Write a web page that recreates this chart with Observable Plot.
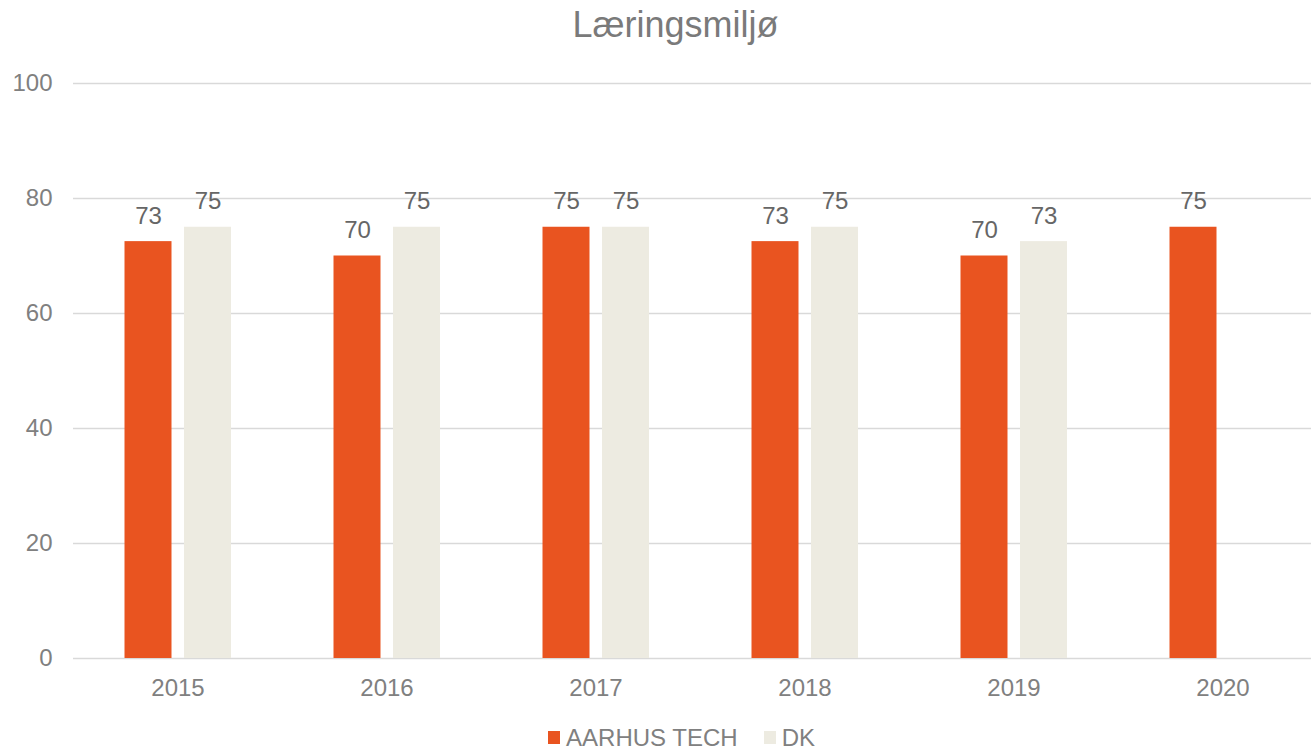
<!DOCTYPE html>
<html>
<head>
<meta charset="utf-8">
<script src="https://cdn.jsdelivr.net/npm/d3@7"></script>
<script src="https://cdn.jsdelivr.net/npm/@observablehq/plot@0.6"></script>
<style>
  html, body { margin: 0; padding: 0; background: #fff; }
  body { width: 1311px; height: 750px; overflow: hidden; font-family: "Liberation Sans", Arial, sans-serif; }
  #title { height: 50px; line-height: 50px; text-align: center; font-size: 36px; color: #7a7a7a; padding-left: 40px; }
  #legend { display: flex; justify-content: center; gap: 26px; font-size: 24px; color: #808080; height: 40px; align-items: center; margin-top: 8px; padding-left: 52px; }
  #legend span.sw { display: inline-block; width: 12px; height: 13px; margin-right: 6px; vertical-align: middle; position: relative; top: -2px; }
</style>
</head>
<body>
<div id="title">Læringsmiljø</div>
<div id="chart"></div>
<div id="legend"></div>
<script>
const years = ["2015", "2016", "2017", "2018", "2019", "2020"];
const aarhusTech = [72.5, 70, 75, 72.5, 70, 75];
const dk = [75, 75, 75, 75, 72.5, null];
const seriesNames = ["AARHUS TECH", "DK"];
const seriesColors = ["#E95420", "#EDEBE1"];
const yTicks = [0, 20, 40, 60, 80, 100];

const rowsA = years.map((y, i) => ({year: y, value: aarhusTech[i]})).filter(d => d.value != null);
const rowsD = years.map((y, i) => ({year: y, value: dk[i]})).filter(d => d.value != null);

const W = 1311, H = 660, ML = 73, MT = 33, MB = 52;
const band = 209;
const barW = 47;
const aL = band / 2 - 29.5 - barW / 2, aR = band - aL - barW;
const dL = band / 2 + 30 - barW / 2, dR = band - dL - barW;

const chart = Plot.plot({
  width: W,
  height: H,
  marginLeft: ML,
  marginRight: 0,
  marginTop: MT,
  marginBottom: MB,
  style: {fontFamily: "'Liberation Sans', Arial, sans-serif", fontSize: "24px", color: "#808080", background: "#fff"},
  x: {domain: years, range: [ML, ML + band * years.length], padding: 0, label: null},
  y: {domain: [0, 100], label: null},
  marks: [
    Plot.ruleY(yTicks, {stroke: "#D9D9D9", strokeWidth: 1.5}),
    Plot.barY(rowsA, {x: "year", y: "value", fill: seriesColors[0], insetLeft: aL, insetRight: aR}),
    Plot.barY(rowsD, {x: "year", y: "value", fill: seriesColors[1], insetLeft: dL, insetRight: dR}),
    Plot.text(rowsA, {x: "year", y: "value", text: d => String(Math.round(d.value)), dx: -29.5, dy: -18, lineAnchor: "bottom", fill: "#666", fontSize: 24}),
    Plot.text(rowsD, {x: "year", y: "value", text: d => String(Math.round(d.value)), dx: 30, dy: -18, lineAnchor: "bottom", fill: "#666", fontSize: 24}),
    Plot.axisY({ticks: yTicks, tickSize: 0, tickPadding: 21, fontSize: 24, fill: "#808080", label: null}),
    Plot.axisX({tickSize: 0, tickPadding: 20, fontSize: 24, fill: "#808080", label: null})
  ]
});
document.getElementById("chart").appendChild(chart);

const legend = document.getElementById("legend");
seriesNames.forEach((n, i) => {
  const item = document.createElement("div");
  const sw = document.createElement("span");
  sw.className = "sw";
  sw.style.background = seriesColors[i];
  item.appendChild(sw);
  item.appendChild(document.createTextNode(n));
  legend.appendChild(item);
});
</script>
</body>
</html>
